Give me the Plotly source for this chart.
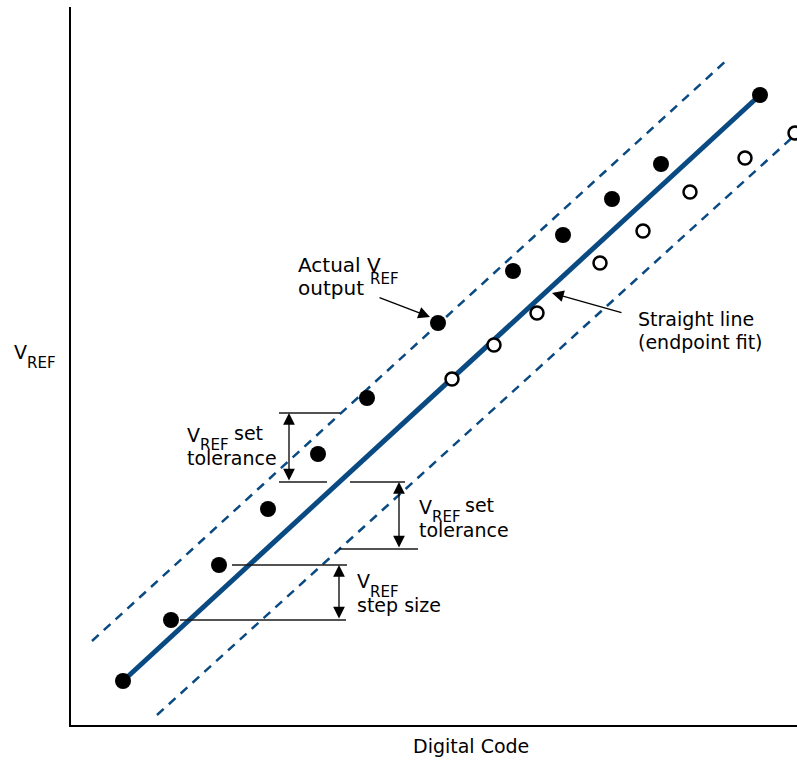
import plotly.graph_objects as go

# digital code / output voltage (arbitrary units)
code_high = [1.04, 2.0, 2.96, 3.94, 4.94, 5.92, 7.34, 8.84, 9.84, 10.82, 11.8, 13.78]
vref_high = [0.88, 2.1, 3.2, 4.32, 5.42, 6.54, 8.04, 9.08, 9.8, 10.52, 11.22, 12.6]

code_low = [7.62, 8.46, 9.32, 10.58, 11.44, 12.38, 13.48, 14.48]
vref_low = [6.92, 7.6, 8.24, 9.24, 9.88, 10.66, 11.34, 11.84]

# endpoint fit and tolerance band
fit_code = [1.04, 13.78]
fit_vref = [0.88, 12.6]
upper_code = [0.42, 13.14]
upper_vref = [1.68, 13.32]
lower_code = [1.72, 14.7]
lower_vref = [0.2, 12.0]

BLUE = "#0a4a82"
FONT = "DejaVu Sans"

# plot area in page pixels (used to place the text pieces)
L, R, T, B = 71, 797, 7, 725


def px_x(p):
    return (p - L) / (R - L)


def px_y(p):
    return (B - p) / (B - T)


fig = go.Figure()

fig.add_trace(go.Scatter(x=upper_code, y=upper_vref, mode="lines",
                         line=dict(color=BLUE, width=2.5, dash="9px,7px")))
fig.add_trace(go.Scatter(x=lower_code, y=lower_vref, mode="lines",
                         line=dict(color=BLUE, width=2.5, dash="9px,7px")))
fig.add_trace(go.Scatter(x=fit_code, y=fit_vref, mode="lines",
                         line=dict(color=BLUE, width=5)))
fig.add_trace(go.Scatter(x=code_high, y=vref_high, mode="markers",
                         marker=dict(color="black", size=16, line=dict(width=0))))
fig.add_trace(go.Scatter(x=code_low, y=vref_low, mode="markers",
                         marker=dict(color="white", size=13, line=dict(color="black", width=2.5))))

# bracket lines
brackets = [
    (4.16, 5.38, 6.24), (4.16, 5.12, 4.86),
    (5.58, 6.68, 4.86), (5.36, 6.94, 3.52),
    (3.22, 5.52, 3.2), (2.18, 5.5, 2.1),
]
for x0, x1, y in brackets:
    fig.add_shape(type="line", x0=x0, x1=x1, y0=y, y1=y,
                  line=dict(color="#1a1a1a", width=1.4))

# double-headed arrows
for x, y0, y1 in [(4.36, 6.24, 4.86), (6.56, 4.86, 3.52), (5.36, 3.2, 2.1)]:
    fig.add_annotation(x=x, y=y0, ax=x, ay=y1, xref="x", yref="y", axref="x", ayref="y",
                       text="", showarrow=True, arrowhead=2, arrowside="end+start",
                       arrowsize=1.8, arrowwidth=1.3, arrowcolor="black")

# pointer arrows
fig.add_annotation(x=7.18, y=8.16, ax=6.14, ay=8.56, xref="x", yref="y", axref="x", ayref="y",
                   text="", showarrow=True, arrowhead=2, arrowsize=1.8, arrowwidth=1.3,
                   arrowcolor="black")
fig.add_annotation(x=9.62, y=8.64, ax=11.04, ay=8.24, xref="x", yref="y", axref="x", ayref="y",
                   text="", showarrow=True, arrowhead=2, arrowsize=1.8, arrowwidth=1.3,
                   arrowcolor="black")

# text pieces: (left px, baseline px, text, size)
texts = [
    (297, 272, "Actual V", 20), (369, 284, "REF", 15), (297, 295, "output", 20),
    (637, 326, "Straight line", 19), (637, 349, "(endpoint fit)", 19),
    (186, 442, "V", 19), (199, 450, "REF", 15), (233, 440, "set", 19),
    (186, 465, "tolerance", 19),
    (418, 514, "V", 19), (431, 522, "REF", 15), (464, 512, "set", 19),
    (418, 537, "tolerance", 19),
    (356, 588, "V", 19), (369, 597, "REF", 15), (356, 612, "step size", 19),
    (13, 359, "V", 19), (26, 368, "REF", 15),
    (412, 753, "Digital Code", 19),
]
for x, y, t, s in texts:
    fig.add_annotation(x=px_x(x - 1), y=px_y(y - 0.346 * s), xref="paper", yref="paper",
                       text=t, showarrow=False, xanchor="left", yanchor="middle",
                       font=dict(family=FONT, size=s, color="black"))

fig.update_xaxes(range=[0, 14.52], showgrid=False, zeroline=False, showticklabels=False,
                 ticks="", showline=True, linecolor="black", linewidth=1.5)
fig.update_yaxes(range=[0, 14.36], showgrid=False, zeroline=False, showticklabels=False,
                 ticks="", showline=True, linecolor="black", linewidth=1.5)

fig.update_layout(width=797, height=761, showlegend=False,
                  plot_bgcolor="white", paper_bgcolor="white",
                  margin=dict(l=L, r=797 - R, t=T, b=761 - B))

fig.write_html("out.html", config={"displayModeBar": False},
               post_script="document.body.style.margin='0';document.body.style.overflow='hidden';")
